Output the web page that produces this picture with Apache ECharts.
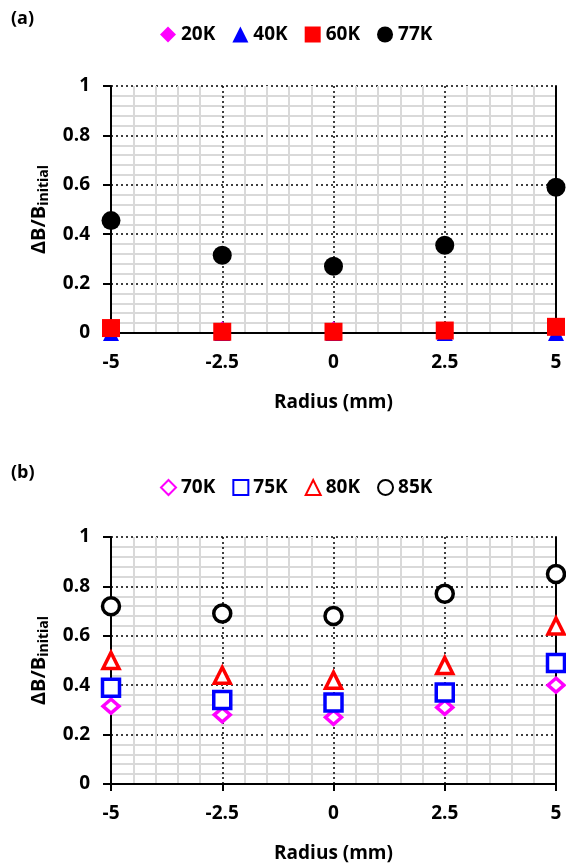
<!DOCTYPE html>
<html>
<head>
<meta charset="utf-8">
<script src="https://cdn.jsdelivr.net/npm/echarts@6/dist/echarts.min.js"></script>
<style>
html,body{margin:0;padding:0;background:#fff;}
#chart{width:566px;height:865px;}
</style>
</head>
<body>
<div id="chart"></div>
<script>
// radius positions (mm)
var radiusList = [-5, -2.5, 0, 2.5, 5];
// (a) dB/B initial
var k20List = [0.01, 0.015, 0.015, 0.01, 0.01];
var k40List = [0, 0, 0, 0, 0];
var k60List = [0.02, 0.005, 0.005, 0.01, 0.025];
var k77List = [0.455, 0.315, 0.27, 0.355, 0.59];
// (b)
var k70List = [0.315, 0.28, 0.27, 0.31, 0.40];
var k75List = [0.39, 0.34, 0.33, 0.37, 0.49];
var k80List = [0.50, 0.44, 0.42, 0.48, 0.64];
var k85List = [0.72, 0.69, 0.68, 0.77, 0.85];
var legendA = ['20K', '40K', '60K', '77K'];
var legendB = ['70K', '75K', '80K', '85K'];

var FONT = 'Open Sans';

function pairs(vals) {
	var out = [];
	for (var i = 0; i < radiusList.length; i++) {
		out.push([radiusList[i], vals[i]]);
	}
	return out;
}

function xAxisFor(idx) {
	return {
		type: 'value', gridIndex: idx, min: -5, max: 5, interval: 2.5,
		name: 'Radius (mm)', nameLocation: 'middle', nameGap: 60,
		nameTextStyle: {fontFamily: FONT, fontWeight: 'bold', fontSize: 19, color: '#000'},
		axisLine: {onZero: false, lineStyle: {color: '#000', width: 2}},
		axisTick: {show: true, inside: false, length: 7, lineStyle: {color: '#000', width: 2}},
		axisLabel: {margin: 20, fontFamily: FONT, fontWeight: 'bold', fontSize: 19, color: '#000',
			formatter: function(v) { return String(v); }},
		splitLine: {show: true, lineStyle: {color: '#000', width: 1.5, type: [2, 3]}},
		minorTick: {show: false, splitNumber: 5},
		minorSplitLine: {show: true, lineStyle: {color: '#d9d9d9', width: 2}}
	};
}

function yAxisFor(idx) {
	return {
		type: 'value', gridIndex: idx, min: 0, max: 1, interval: 0.2,
		name: '{m|ΔB/B}{s|initial}', nameLocation: 'middle', nameGap: 60,
		nameTextStyle: {
			rich: {
				m: {fontFamily: FONT, fontWeight: 'bold', fontSize: 20, color: '#000'},
				s: {fontFamily: FONT, fontWeight: 'bold', fontSize: 14, color: '#000', verticalAlign: 'bottom', padding: [9, 0, 0, 0]}
			}
		},
		axisLine: {onZero: false, lineStyle: {color: '#000', width: 2}},
		axisTick: {show: true, inside: false, length: 8, lineStyle: {color: '#000', width: 2}},
		axisLabel: {margin: 21, fontFamily: FONT, fontWeight: 'bold', fontSize: 19, color: '#000',
			formatter: function(v) { return String(Math.round(v * 10) / 10); }},
		splitLine: {show: true, lineStyle: {color: '#000', width: 1.5, type: [2, 3]}},
		minorTick: {show: false, splitNumber: 5},
		minorSplitLine: {show: true, lineStyle: {color: '#d9d9d9', width: 2}}
	};
}

function rightBorder(idx) {
	return {
		type: 'value', gridIndex: idx, min: 0, max: 1, position: 'right',
		axisLine: {show: true, onZero: false, lineStyle: {color: '#000', width: 2}},
		axisTick: {show: false}, axisLabel: {show: false}, splitLine: {show: false}
	};
}

function solid(name, vals, symbol, size, color, xi) {
	return {
		name: name, type: 'scatter', xAxisIndex: xi, yAxisIndex: xi * 2,
		symbol: symbol, symbolSize: size, data: pairs(vals),
		itemStyle: {color: color, opacity: 1}
	};
}

function hollow(name, vals, symbol, size, color, xi) {
	return {
		name: name, type: 'scatter', xAxisIndex: xi, yAxisIndex: xi * 2,
		symbol: symbol, symbolSize: size, data: pairs(vals),
		itemStyle: {color: '#fff', borderColor: color, borderWidth: 3.5, opacity: 1}
	};
}

var legendText = {fontFamily: FONT, fontWeight: 'bold', fontSize: 19, color: '#000'};

var option = {
	animation: false,
	backgroundColor: '#fff',
	title: [
		{text: '(a)', left: 6, top: 5, textStyle: {fontFamily: FONT, fontWeight: 'bold', fontSize: 18, color: '#000'}},
		{text: '(b)', left: 6, top: 459, textStyle: {fontFamily: FONT, fontWeight: 'bold', fontSize: 18, color: '#000'}}
	],
	legend: [
		{data: legendA, left: 155, top: 20, itemWidth: 16, itemHeight: 16, itemGap: 17,
			textStyle: legendText},
		{data: legendB, left: 155, top: 473, itemWidth: 15, itemHeight: 15, itemGap: 17,
			textStyle: legendText}
	],
	grid: [
		{left: 111, right: 10, top: 86, height: 247},
		{left: 111, right: 10, top: 537, height: 247}
	],
	xAxis: [xAxisFor(0), xAxisFor(1)],
	yAxis: [yAxisFor(0), rightBorder(0), yAxisFor(1), rightBorder(1)],
	series: [
		solid('20K', k20List, 'diamond', 16, '#ff00ff', 0),
		solid('40K', k40List, 'triangle', 16, '#0000ff', 0),
		solid('60K', k60List, 'rect', 18, '#ff0000', 0),
		solid('77K', k77List, 'circle', 19, '#000000', 0),
		hollow('70K', k70List, 'diamond', [16, 14], '#ff00ff', 1),
		hollow('75K', k75List, 'rect', 17, '#0000ff', 1),
		hollow('80K', k80List, 'triangle', 16, '#ff0000', 1),
		hollow('85K', k85List, 'circle', 17, '#000000', 1)
	]
};

var chart = echarts.init(document.getElementById('chart'));
chart.setOption(option);
</script>
</body>
</html>
